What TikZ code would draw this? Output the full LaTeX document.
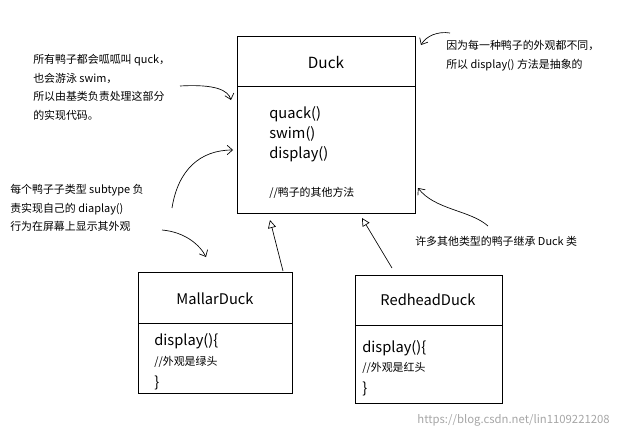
\documentclass[tikz,border=0pt]{standalone}
\usepackage{fontspec}
\setmainfont{Noto Sans CJK SC}
\usetikzlibrary{arrows.meta}
\begin{document}
\begin{tikzpicture}[x=0.75pt,y=-0.75pt,
  box/.style={draw,line width=0.6pt},
  big/.style={font=\fontsize{11}{13}\selectfont,anchor=west,inner sep=0},
  small/.style={font=\fontsize{8.2}{14}\selectfont,anchor=west,inner sep=0,align=left},
  inh/.style={-{Triangle[open,length=6pt,width=6pt]},line width=0.5pt},
  note/.style={-{Straight Barb[length=4pt,width=7pt]},line width=0.5pt}]
\useasboundingbox (0,0) rectangle (619,439);
% Duck
\draw[box] (237,36) rectangle (415,213);
\draw[box] (237,86) -- (415,86);
\node[font=\fontsize{11.5}{13}\selectfont] (duck) at (326,62) {Duck};
\node[big] (m1) at (269,114) {quack()};
\node[big] (m2) at (269,134) {swim()};
\node[big] (m3) at (269,154) {display()};
\node[small] (m4) at (269,193) {//鸭子的其他方法};
\coordinate (dtop) at (270,220);
\coordinate (dtop2) at (362,218);
% Mallar
\draw[box] (138,272) rectangle (292,393);
\draw[box] (138,323) -- (292,323);
\node[font=\fontsize{11}{13}\selectfont] (mall) at (215,299) {MallarDuck};
\node[big] (md) at (154,341) {display()\{};
\node[small] (mc) at (154,362) {//外观是绿头};
\node[big] (mb) at (154,383) {\}};
% Redhead
\draw[box] (355,275) rectangle (502,403);
\draw[box] (355,325) -- (502,325);
\node[font=\fontsize{11}{13}\selectfont] (red) at (428,300) {RedheadDuck};
\node[big] (rd) at (362,348) {display()\{};
\node[small] (rc) at (362,368) {//外观是红头};
\node[big] (rb) at (362,389) {\}};
% inheritance
\coordinate (ms) at (283,271);
\coordinate (rs) at (392,268);
\draw[inh] (ms) -- (dtop);
\draw[inh] (rs) -- (dtop2);
% notes
\node[small,anchor=north west] (n1) at (33,54) {所有鸭子都会呱呱叫 quck，\\也会游泳 swim，\\所以由基类负责处理这部分\\的实现代码。};
\node[small,anchor=north west] (n2) at (446,40) {因为每一种鸭子的外观都不同，\\所以 display() 方法是抽象的};
\node[small,anchor=north west] (n3) at (10,184) {每个鸭子子类型 subtype 负\\责实现自己的 diaplay()\\行为在屏幕上显示其外观};
\node[small] (n4) at (415,241) {许多其他类型的鸭子继承 Duck 类};
\coordinate (a1) at (180,86);\coordinate (b1) at (231,100);
\draw[note] (a1) .. controls (215,84) and (228,90) .. (b1);
\coordinate (a2) at (450,33);\coordinate (b2) at (421,45);
\draw[note] (a2) .. controls (438,31) and (426,36) .. (b2);
\coordinate (a3) at (172,208);\coordinate (b3) at (233,150);
\draw[note] (a3) .. controls (178,170) and (200,150) .. (b3);
\coordinate (a4) at (162,230);\coordinate (b4) at (206,257);
\draw[note] (a4) .. controls (185,232) and (200,245) .. (b4);
\coordinate (a5) at (488,226);\coordinate (b5) at (418,188);
\draw[note] (a5) .. controls (470,210) and (435,210) .. (b5);
\node[font=\fontsize{8.5}{10}\selectfont,text=black!35,anchor=east,inner sep=0] (wm) at (610,420) {https://blog.csdn.net/lin1109221208};
\end{tikzpicture}
\end{document}
